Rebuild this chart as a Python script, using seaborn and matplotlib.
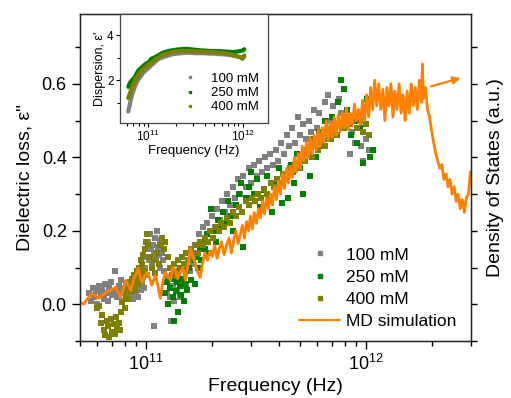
#!/usr/bin/env python3

# Dielectric loss of the salt solutions against the MD density of states.

import numpy as np
import matplotlib

matplotlib.use("Agg")
import matplotlib.pyplot as plt
from matplotlib.lines import Line2D
from matplotlib.ticker import LogLocator, NullFormatter, MultipleLocator
import seaborn as sns

sns.set_style("ticks")
plt.rcParams["font.family"] = ["Liberation Sans", "DejaVu Sans"]
plt.rcParams["mathtext.fontset"] = "custom"
plt.rcParams["mathtext.rm"] = "Liberation Sans"
plt.rcParams["mathtext.it"] = "Liberation Sans:italic"
for key in ["text.color", "axes.labelcolor", "xtick.color", "ytick.color"]:
    plt.rcParams[key] = "black"

GRAY = "#808080"
GREEN = "#008000"
OLIVE = "#808000"
ORANGE = "#FF8000"

# ---- 100 mM, dielectric loss (frequency in GHz) ----
f100 = [55, 56, 57, 58, 59, 60, 61, 62, 63, 64, 65, 66, 67, 68, 69, 70, 71, 72, 73, 74,
        75, 76, 77, 78, 79, 80, 81, 82, 83, 84, 85, 86, 87, 88, 89, 90, 91, 92, 93, 94,
        95, 96, 97, 98, 99, 100, 101, 102, 103, 104, 105, 106, 107, 108, 109, 110, 111,
        112, 113, 114, 115, 116, 117, 118, 119, 120, 122, 124, 126, 128, 130, 132, 134,
        136, 138, 140, 143, 146, 149, 152, 155, 158, 161, 164, 167, 170, 174, 178, 182,
        186, 190, 195, 200, 205, 210, 216, 222, 228, 234, 240, 247, 254, 261, 268, 276,
        284, 292, 300, 309, 318, 327, 336, 346, 356, 366, 377, 388, 399, 411, 423, 435,
        448, 461, 474, 488, 502, 517, 532, 548, 564, 580, 597, 614, 632, 650, 668, 688,
        708, 729, 750, 772, 794, 817, 841, 866, 891, 917, 944, 971, 999, 1028]
v100 = [0.03, 0.01, 0.045, 0.02, 0.035, 0.0, 0.05, 0.025, 0.04, 0.015, 0.055, 0.03, 0.01,
        0.045, 0.06, 0.025, 0.035, 0.09, 0.04, 0.02, 0.05, 0.035, 0.065, 0.01, 0.045, 0.03,
        0.055, 0.02, 0.04, 0.06, 0.025, 0.05, 0.015, 0.04, 0.07, 0.03, 0.05, 0.02, 0.055,
        0.085, 0.04, 0.06, 0.075, 0.045, 0.1, 0.13, 0.08, 0.17, 0.12, 0.19, 0.15, 0.11, 0.16,
        -0.06, 0.14, 0.18, 0.125, 0.2, 0.155, 0.135, 0.175, 0.1, 0.16, 0.14, 0.12, 0.09, 0.06,
        0.03, 0.075, 0.02, -0.045, 0.05, 0.01, 0.065, 0.04, 0.08, 0.02, 0.06, 0.1, 0.05, 0.12,
        0.09, 0.14, 0.11, 0.16, 0.13, 0.19, 0.16, 0.21, 0.18, 0.22, 0.2, 0.24, 0.21, 0.26,
        0.23, 0.28, 0.25, 0.3, 0.27, 0.32, 0.29, 0.34, 0.3, 0.35, 0.32, 0.37, 0.33, 0.38,
        0.35, 0.39, 0.36, 0.4, 0.37, 0.41, 0.38, 0.42, 0.39, 0.44, 0.41, 0.46, 0.43, 0.48,
        0.44, 0.51, 0.46, 0.49, 0.45, 0.5, 0.47, 0.53, 0.48, 0.52, 0.47, 0.55, 0.57, 0.5,
        0.54, 0.49, 0.56, 0.52, 0.48, 0.5, 0.41, 0.47, 0.44, 0.48, 0.43, 0.39, 0.45, 0.42]

# ---- 250 mM ----
f250 = [122, 124, 126, 128, 130, 132, 134, 136, 138, 140, 142, 144, 146, 148, 150, 152,
        154, 157, 160, 163, 166, 169, 172, 175, 178, 182, 186, 190, 194, 198, 203, 208,
        213, 218, 224, 230, 236, 242, 249, 256, 263, 270, 277, 285, 293, 301, 310, 320,
        331, 342, 354, 366, 375, 388, 400, 413, 426, 440, 455, 470, 486, 502, 519, 536,
        554, 572, 591, 611, 631, 652, 674, 697, 720, 744, 769, 795, 822, 850, 879, 909,
        940, 972, 1005, 1040, 1070]
v250 = [0.03, 0.06, 0.0, 0.045, 0.07, 0.02, -0.045, 0.035, 0.06, -0.02, 0.05, 0.025, 0.07,
        0.01, 0.055, 0.09, 0.04, 0.1, 0.065, 0.12, 0.055, 0.13, 0.1, 0.15, 0.12, 0.17, 0.15,
        0.19, 0.14, 0.26, 0.2, 0.17, 0.23, 0.21, 0.25, 0.22, 0.28, 0.24, 0.2, 0.27, 0.3, 0.33,
        0.155, 0.29, 0.32, 0.36, 0.3, 0.34, 0.265, 0.31, 0.35, 0.29, 0.25, 0.33, 0.37, 0.275,
        0.34, 0.29, 0.38, 0.33, 0.41, 0.37, 0.3, 0.42, 0.35, 0.45, 0.4, 0.47, 0.43, 0.5, 0.45,
        0.51, 0.47, 0.55, 0.61, 0.585, 0.53, 0.46, 0.5, 0.44, 0.48, 0.385, 0.56, 0.4, 0.42]

# ---- 400 mM ----
f400 = [60, 61, 62, 63, 64, 65, 66, 67, 68, 69, 70, 71, 72, 73, 74, 75, 76, 77, 78, 79,
        80, 81, 82, 83, 84, 85, 86, 87, 88, 89, 90, 91, 92, 93, 94, 95, 96, 97, 98, 99,
        100, 101, 102, 104, 106, 108, 110, 112, 114, 116, 118, 120, 122, 125, 128, 131,
        134, 137, 140, 143, 146, 149, 152, 156, 160, 164, 168, 172, 176, 181, 186, 191,
        196, 202, 208, 214, 220, 227, 234, 241, 249, 257, 265, 274, 283, 292, 302, 312,
        322, 333, 344, 356, 368, 380, 393, 406, 420, 434, 449, 464, 480, 496, 513, 530,
        548, 567, 586, 606, 627, 648, 670, 693, 717, 741, 766, 792, 819, 847, 876, 906,
        937, 969, 1002, 1036]
v400 = [-0.01, -0.005, -0.05, -0.03, -0.07, -0.085, -0.045, -0.06, -0.09, -0.04, -0.075,
        -0.055, -0.08, -0.035, -0.065, -0.05, -0.07, -0.02, 0.005, 0.03, -0.01, 0.02, 0.045,
        0.015, 0.06, 0.035, 0.07, 0.05, 0.08, 0.04, 0.065, 0.09, 0.055, 0.1, 0.075, 0.12,
        0.11, 0.135, 0.09, 0.15, 0.17, 0.19, 0.16, 0.13, 0.1, 0.12, 0.085, 0.14, 0.11, 0.16,
        0.18, 0.15, 0.17, 0.13, 0.1, 0.08, 0.11, 0.09, 0.12, 0.1, 0.13, 0.11, 0.14, 0.12,
        0.15, 0.13, 0.16, 0.14, 0.17, 0.16, 0.18, 0.17, 0.2, 0.18, 0.21, 0.2, 0.22, 0.21,
        0.235, 0.22, 0.25, 0.24, 0.265, 0.25, 0.28, 0.27, 0.29, 0.28, 0.3, 0.29, 0.315, 0.3,
        0.33, 0.32, 0.34, 0.33, 0.355, 0.34, 0.37, 0.36, 0.38, 0.37, 0.4, 0.39, 0.41, 0.4,
        0.43, 0.42, 0.44, 0.43, 0.46, 0.45, 0.47, 0.46, 0.49, 0.48, 0.51, 0.49, 0.5, 0.48,
        0.5, 0.47, 0.49, 0.46]

# ---- MD simulation, density of states (a.u.) ----
f_md = [50, 52, 54, 57, 59, 61, 64, 67, 70, 72.5, 75, 76.5, 79, 80.5, 83, 85, 88, 92, 94,
        96, 99, 101, 104, 106, 108, 110, 113, 116, 119, 122, 125, 129, 132, 136, 139, 143,
        147, 151, 155, 159, 163, 167, 171, 176, 180, 185, 190, 195, 200, 205, 210, 215, 220,
        226, 232, 238, 244, 250, 256, 262, 268, 274, 280, 286, 292, 298, 304, 310, 317, 324,
        331, 338, 345, 352, 360, 367, 375, 383, 391, 400, 408, 417, 426, 435, 444, 452, 462,
        472, 482, 492, 502, 513, 524, 535, 546, 557, 569, 581, 593, 606, 619, 632, 645, 659,
        673, 687, 702, 717, 732, 748, 764, 780, 797, 814, 831, 849, 867, 886, 905, 924, 944,
        964, 985, 1006, 1028, 1050, 1072, 1095, 1118, 1142, 1167, 1192, 1218, 1244, 1270,
        1298, 1325, 1354, 1383, 1413, 1443, 1474, 1506, 1538, 1571, 1605, 1640, 1675, 1711,
        1748, 1786, 1805, 1825, 1864, 1905, 1946, 1988, 2031, 2075, 2120, 2165, 2212, 2260,
        2309, 2359, 2410, 2462, 2515, 2570, 2625, 2682, 2740, 2800, 2860, 2922, 2985]
v_md = [0.005, 0.0, 0.015, 0.03, 0.022, 0.016, 0.028, 0.035, 0.04, 0.046, 0.03, 0.016,
        0.045, 0.065, 0.05, 0.038, 0.07, 0.098, 0.075, 0.06, 0.08, 0.087, 0.07, 0.052, 0.065,
        0.079, 0.05, 0.016, 0.06, 0.087, 0.08, 0.065, 0.1, 0.092, 0.07, 0.087, 0.1, 0.065,
        0.11, 0.153, 0.13, 0.112, 0.09, 0.073, 0.11, 0.14, 0.12, 0.145, 0.13, 0.16, 0.125,
        0.15, 0.17, 0.135, 0.16, 0.18, 0.14, 0.175, 0.2, 0.165, 0.19, 0.215, 0.18, 0.225, 0.2,
        0.24, 0.205, 0.25, 0.22, 0.26, 0.235, 0.28, 0.245, 0.29, 0.26, 0.3, 0.27, 0.32, 0.285,
        0.335, 0.3, 0.355, 0.315, 0.37, 0.33, 0.375, 0.345, 0.4, 0.36, 0.41, 0.37, 0.43, 0.39,
        0.44, 0.4, 0.455, 0.41, 0.46, 0.42, 0.475, 0.43, 0.48, 0.44, 0.5, 0.445, 0.495, 0.455,
        0.51, 0.46, 0.515, 0.47, 0.52, 0.48, 0.535, 0.475, 0.52, 0.49, 0.545, 0.5, 0.53, 0.49,
        0.555, 0.5, 0.57, 0.51, 0.59, 0.53, 0.61, 0.54, 0.6, 0.53, 0.585, 0.5, 0.59, 0.54,
        0.6, 0.51, 0.58, 0.53, 0.6, 0.52, 0.57, 0.5, 0.58, 0.52, 0.6, 0.54, 0.59, 0.53, 0.61,
        0.55, 0.654, 0.56, 0.59, 0.53, 0.51, 0.47, 0.44, 0.41, 0.39, 0.37, 0.38, 0.34, 0.355,
        0.32, 0.34, 0.3, 0.32, 0.28, 0.3, 0.26, 0.285, 0.25, 0.29, 0.3, 0.36]

# ---- inset: dispersion (real part) ----
f_disp = [62, 65, 68, 72, 76, 80, 85, 90, 96, 102, 108, 115, 122, 130, 140, 150, 165, 180,
          200, 225, 250, 280, 320, 360, 400, 450, 500, 560, 630, 700, 780, 860, 940, 1000,
          1040]
d100 = [0.6, 1.0, 1.35, 1.65, 1.9, 2.05, 2.2, 2.35, 2.45, 2.55, 2.65, 2.75, 2.85, 2.95,
        3.0, 3.05, 3.1, 3.15, 3.18, 3.2, 3.22, 3.22, 3.2, 3.2, 3.2, 3.18, 3.18, 3.16, 3.15,
        3.13, 3.1, 3.06, 3.03, 3.0, 3.05]
d250 = [1.7, 1.9, 2.0, 2.1, 2.3, 2.45, 2.55, 2.65, 2.75, 2.8, 2.95, 3.0, 3.05, 3.12, 3.2,
        3.25, 3.3, 3.33, 3.36, 3.38, 3.4, 3.38, 3.35, 3.33, 3.32, 3.3, 3.3, 3.3, 3.28, 3.27,
        3.25, 3.27, 3.3, 3.32, 3.38]
d400 = [1.2, 1.45, 1.7, 1.9, 2.1, 2.25, 2.4, 2.5, 2.6, 2.7, 2.75, 2.85, 2.95, 3.02, 3.1,
        3.15, 3.2, 3.25, 3.28, 3.3, 3.3, 3.3, 3.28, 3.27, 3.26, 3.25, 3.25, 3.22, 3.2, 3.17,
        3.12, 3.07, 3.02, 2.95, 3.1]

GHZ = 1e9

fig = plt.figure(figsize=(5.11, 3.98), dpi=100)
ax = fig.add_axes([0.1566, 0.1432, 0.765, 0.8216])

for f, v, c, lab in [(f100, v100, GRAY, "100 mM"),
                     (f250, v250, GREEN, "250 mM"),
                     (f400, v400, OLIVE, "400 mM")]:
    sns.scatterplot(x=np.array(f) * GHZ, y=v, ax=ax, marker="s", s=16,
                    color=c, linewidth=0, label=lab, legend=False)
sns.lineplot(x=np.array(f_md) * GHZ, y=v_md, ax=ax, color=ORANGE, lw=2.0,
             estimator=None, sort=False, label="MD simulation", legend=False)

ax.set_xscale("log")
ax.set_xlim(5e10, 3e12)
ax.set_ylim(-0.1, 0.79)
ax.yaxis.set_major_locator(MultipleLocator(0.2))
ax.yaxis.set_minor_locator(MultipleLocator(0.1))
ax.yaxis.set_major_formatter(plt.FormatStrFormatter("%.1f"))
ax.xaxis.set_major_locator(LogLocator(base=10))
ax.xaxis.set_minor_locator(LogLocator(base=10, subs=np.arange(2, 10)))
ax.xaxis.set_minor_formatter(NullFormatter())
ax.tick_params(which="major", direction="out", length=6, width=1, labelsize=13,
               top=False, right=False)
ax.tick_params(which="minor", direction="out", length=3.5, width=1, top=False, right=False)
for sp in ax.spines.values():
    sp.set_linewidth(1.0)
    sp.set_color("black")
ax.set_xlabel("Frequency (Hz)", fontsize=14, labelpad=3)
ax.set_ylabel('Dielectric loss, ε"', fontsize=14, labelpad=6)

ax.annotate("", xy=(2.77e12, 0.618), xytext=(1.92e12, 0.591),
            arrowprops=dict(arrowstyle="-|>", color=ORANGE, lw=1.6, mutation_scale=11))

handles = [Line2D([], [], ls="", marker="s", ms=3, color=GRAY),
           Line2D([], [], ls="", marker="s", ms=3, color=GREEN),
           Line2D([], [], ls="", marker="s", ms=3, color=OLIVE),
           Line2D([], [], color=ORANGE, lw=1.6)]
ax.legend(handles, ["100 mM", "250 mM", "400 mM", "MD simulation"],
          loc="lower right", bbox_to_anchor=(0.995, 0.0), frameon=False,
          fontsize=12.5, handlelength=2.4, handletextpad=0.35, labelspacing=0.4,
          borderpad=0.2)

tw = ax.twinx()
tw.set_ylim(ax.get_ylim())
tw.yaxis.set_major_locator(MultipleLocator(0.1))
tw.set_yticklabels([])
tw.tick_params(axis="y", direction="out", length=4, width=1)
tw.set_ylabel("Density of States (a.u.)", fontsize=14, labelpad=4)

# inset
ins = fig.add_axes([0.2348, 0.6917, 0.2897, 0.2731])
ins.set_facecolor("white")
for d, c in [(d100, GRAY), (d250, GREEN), (d400, OLIVE)]:
    sns.lineplot(x=np.array(f_disp) * GHZ, y=d, ax=ins, color=c, lw=3,
                 estimator=None, legend=False)
ins.set_xscale("log")
ins.set_xlim(5.07e10, 1.85e12)
ins.set_ylim(0.1, 4.95)
ins.yaxis.set_major_locator(MultipleLocator(2))
ins.yaxis.set_minor_locator(MultipleLocator(1))
ins.xaxis.set_major_locator(LogLocator(base=10))
ins.xaxis.set_minor_locator(LogLocator(base=10, subs=np.arange(2, 10)))
ins.xaxis.set_minor_formatter(NullFormatter())
ins.tick_params(which="major", direction="out", length=3, width=0.8, labelsize=8.5, pad=1.5)
ins.tick_params(which="minor", direction="out", length=2, width=0.8)
for sp in ins.spines.values():
    sp.set_linewidth(0.9)
    sp.set_color("#444444")
ins.set_xlabel("Frequency (Hz)", fontsize=9.5, labelpad=0.5)
ins.set_ylabel("Dispersion, ε'", fontsize=9, labelpad=1)
ins_handles = [Line2D([], [], ls="", marker="s", ms=2, color=GRAY),
               Line2D([], [], ls="", marker="s", ms=2, color=GREEN),
               Line2D([], [], ls="", marker="s", ms=2, color=OLIVE)]
ins.legend(ins_handles, ["100 mM", "250 mM", "400 mM"], loc="lower right",
           frameon=False, fontsize=9.5, handlelength=2.0, handletextpad=0.6,
           labelspacing=0.15, borderpad=0.2)

fig.savefig("out.png", dpi=100)
